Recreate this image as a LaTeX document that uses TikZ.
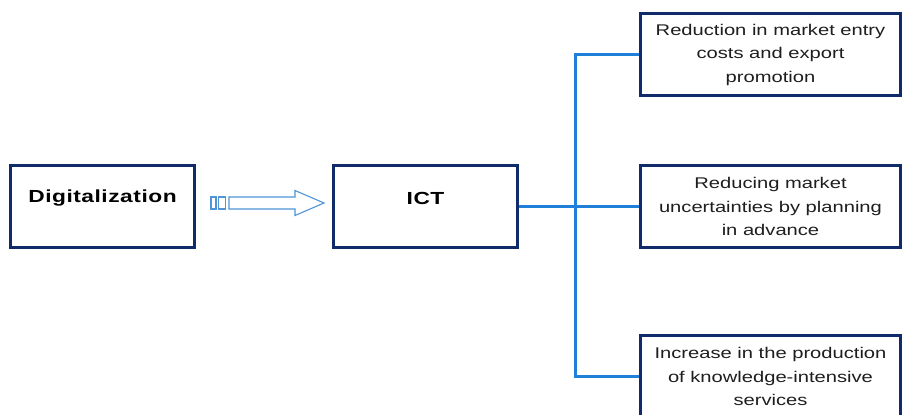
\documentclass[tikz,border=0pt]{standalone}
\usepackage{fontspec}
\setmainfont{Liberation Sans}[FakeStretch=1.3]
\usetikzlibrary{calc}
\definecolor{navy}{HTML}{102B69}
\definecolor{linkblue}{HTML}{1E80D8}
\definecolor{arrowblue}{HTML}{4F95D8}
\definecolor{txt}{HTML}{1E1E1E}
\tikzset{
  x=1pt, y=-1pt,
  mainbox/.style={draw=navy, line width=3.2pt, fill=white, minimum width=184pt, minimum height=82pt, inner sep=0pt},
  boldlabel/.style={font=\fontsize{17.5}{21}\selectfont\bfseries\addfontfeature{LetterSpace=3}, text=black},
  effectbox/.style={draw=navy, line width=3.2pt, fill=white, minimum width=260pt, minimum height=82pt, inner sep=0pt,
    align=center, font=\fontsize{15.5}{23.5}\selectfont, text=txt},
  link/.style={draw=linkblue, line width=3pt},
  hollow/.style={draw=arrowblue, line width=1.1pt, fill=white}
}
\begin{document}
\begin{tikzpicture}
\useasboundingbox (0,0) rectangle (903,415);
\clip (0,0) rectangle (903,415);

% source and ICT blocks
\node[mainbox] (dig) at (102.5,206.5) {};
\node[boldlabel] (digt) at (102.5,198) {Digitalization};
\node[mainbox] (ict) at (425.5,206.5) {};
\node[boldlabel] (ictt) at (425.5,198) {ICT};

% effect boxes
\node[effectbox] (e1) at (770.5,54.5) {Reduction in market entry\\costs and export\\promotion};
\node[effectbox] (e2) at (770.5,206.5) {Reducing market\\uncertainties by planning\\in advance};
\node[effectbox] (e3) at (770.5,376.5) {Increase in the production\\of knowledge-intensive\\services};

% hollow block arrow between the two blocks
\draw[hollow] (211,197) rectangle (216,209);
\draw[hollow] (218.5,197) rectangle (225.5,209);
\draw[hollow] (229,197) -- (295,197) -- (295,190.5) -- (324,203) -- (295,215.5) -- (295,209) -- (229,209) -- cycle;

% branching connector
\coordinate (bus) at (575,0);
\draw[link] (ict.east) -- (e2.west);
\draw[link] (e1.west) -- (e1.west -| bus) -- (e3.west -| bus) -- (e3.west);
\end{tikzpicture}
\end{document}
